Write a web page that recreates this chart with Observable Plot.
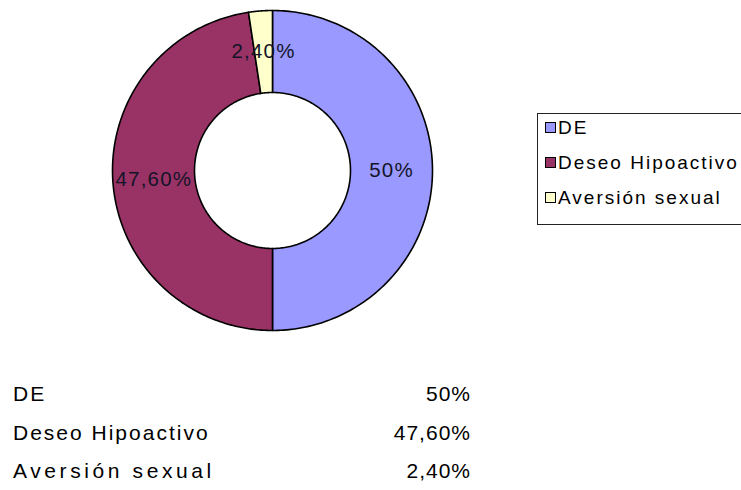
<!DOCTYPE html>
<html>
<head>
<meta charset="utf-8">
<script src="https://cdn.jsdelivr.net/npm/d3@7"></script>
<script src="https://cdn.jsdelivr.net/npm/@observablehq/plot@0.6"></script>
<style>
  html, body { margin: 0; padding: 0; background: #fff; }
  body { width: 741px; height: 490px; overflow: hidden; position: relative; font-family: "Liberation Sans", Arial, sans-serif; color: #000; }
  #chart { position: absolute; left: 0; top: 0; }
  #legend { position: absolute; left: 537px; top: 113px; width: 220px; height: 112px; border: 1px solid #222; box-sizing: border-box; }
  .li { position: absolute; left: 7px; font-size: 19px; letter-spacing: 2px; white-space: nowrap; line-height: 20px; }
  .sw { display: inline-block; width: 9px; height: 9px; border: 1px solid #000; margin-right: 2px; vertical-align: 1px; }
  #table { position: absolute; left: 13px; top: 382px; width: 458px; }
  .row { position: absolute; left: 0; width: 458px; font-size: 21px; letter-spacing: 2px; line-height: 24px; white-space: nowrap; }
  .row:nth-child(3) { letter-spacing: 3.6px; }
  .row .v { position: absolute; right: 0; top: 0; letter-spacing: 1px; }
</style>
</head>
<body>
<div id="chart"></div>
<div id="legend"></div>
<div id="table"></div>
<script>
// ---- data ----
const categories = ["DE", "Deseo Hipoactivo", "Aversión sexual"];
const values = [50, 47.6, 2.4];
const valueLabels = ["50%", "47,60%", "2,40%"];
const colors = ["#9999FF", "#993366", "#FFFFCC"];

// ---- layout of the ring from the data ----
const innerR = 0.4875, outerR = 1;
const arcs = d3.pie().sort(null).value(d => d)(values);
const steps = 180;
function ring(a) {
  const pts = [];
  for (let i = 0; i <= steps; i++) {
    const t = a.startAngle + (a.endAngle - a.startAngle) * i / steps;
    pts.push({x: outerR * Math.sin(t), y: outerR * Math.cos(t)});
  }
  for (let i = steps; i >= 0; i--) {
    const t = a.startAngle + (a.endAngle - a.startAngle) * i / steps;
    pts.push({x: innerR * Math.sin(t), y: innerR * Math.cos(t)});
  }
  return pts;
}
const labelR = (innerR + outerR) / 2;
const labelData = arcs.map((a, i) => {
  const m = (a.startAngle + a.endAngle) / 2;
  return {x: labelR * Math.sin(m), y: labelR * Math.cos(m), label: valueLabels[i]};
});

const marks = arcs.map((a, i) =>
  Plot.line(ring(a), {x: "x", y: "y", fill: colors[i], stroke: "#000", strokeWidth: 1.6, curve: "linear-closed"})
);
marks.push(Plot.text(labelData, {x: "x", y: "y", text: "label", fontSize: 20.5, fill: "#141428", fontFamily: "Liberation Sans, Arial, sans-serif"}));

const plot = Plot.plot({
  width: 741,
  height: 345,
  margin: 0,
  x: {type: "linear", domain: [-1, 1], range: [112, 432], axis: null},
  y: {type: "linear", domain: [-1, 1], range: [330, 10], axis: null},
  marks
});
plot.style.letterSpacing = "1.2px";
document.getElementById("chart").appendChild(plot);

// ---- legend ----
const legend = document.getElementById("legend");
categories.forEach((c, i) => {
  const d = document.createElement("div");
  d.className = "li";
  d.style.top = (4 + i * 35) + "px";
  const sw = document.createElement("span");
  sw.className = "sw";
  sw.style.background = colors[i];
  d.appendChild(sw);
  d.appendChild(document.createTextNode(c));
  legend.appendChild(d);
});

// ---- table ----
const table = document.getElementById("table");
categories.forEach((c, i) => {
  const r = document.createElement("div");
  r.className = "row";
  r.style.top = (i * 38.5) + "px";
  r.appendChild(document.createTextNode(c));
  const v = document.createElement("span");
  v.className = "v";
  v.textContent = valueLabels[i];
  r.appendChild(v);
  table.appendChild(r);
});
</script>
</body>
</html>
